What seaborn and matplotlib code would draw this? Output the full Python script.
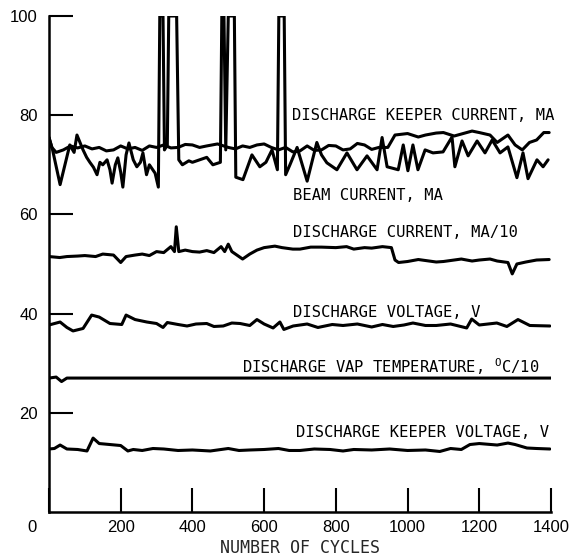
import numpy as np
import pandas as pd
import matplotlib
matplotlib.use("Agg")
import matplotlib.pyplot as plt
import matplotlib.transforms as mtransforms
import seaborn as sns

# Values (cycles vs. reading)
keeper_cur_x = [0, 8, 20, 40, 60, 80, 100, 120, 140, 160, 180, 200, 220, 240, 260, 280, 300, 320,
                340, 360, 380, 400, 420, 440, 470, 500, 520, 540, 560, 580, 600, 620, 640, 660,
                680, 700, 720, 740, 760, 780, 800, 820, 840, 860, 880, 900, 920, 945, 965, 1000,
                1030, 1050, 1080, 1100, 1130, 1150, 1180, 1200, 1230, 1250, 1280, 1300, 1320,
                1340, 1360, 1380, 1395]
keeper_cur_y = [75.5, 73.5, 72.5, 73.0, 73.8, 73.4, 73.8, 73.2, 73.5, 72.8, 73.0, 73.8, 73.2,
                73.5, 72.9, 73.8, 73.5, 74.0, 73.4, 73.5, 74.1, 74.0, 73.5, 73.8, 74.2, 73.5,
                73.2, 73.8, 73.5, 74.0, 74.2, 73.5, 73.0, 73.5, 72.6, 72.8, 73.8, 72.9, 73.0,
                73.9, 73.8, 73.0, 73.2, 74.3, 74.0, 73.1, 73.5, 73.5, 76.0, 76.3, 75.6, 76.0,
                76.4, 76.5, 75.8, 76.2, 76.8, 76.5, 76.0, 74.5, 76.0, 74.0, 73.0, 74.5, 75.0,
                76.5, 76.5]

beam_x = [0, 10, 31, 58, 70, 78, 95, 105, 114, 124, 134, 142, 150, 162, 170, 176, 185, 192, 200,
          206, 215, 223, 235, 245, 255, 262, 272, 280, 296, 305, 309, 318, 322, 330, 334, 356,
          362, 372, 390, 400, 420, 440, 457, 478, 482, 488, 493, 500, 517, 521, 541, 566, 588,
          605, 622, 637, 641, 656, 660, 672, 692, 720, 747, 760, 775, 803, 831, 859, 887, 915,
          929, 943, 974, 988, 1001, 1015, 1029, 1049, 1071, 1099, 1124, 1132, 1152, 1169, 1194,
          1216, 1236, 1258, 1280, 1305, 1322, 1336, 1361, 1378, 1392]
beam_y = [75.5, 73.0, 66.0, 74.0, 72.5, 76.0, 73.0, 71.5, 70.5, 69.5, 68.0, 70.5, 70.0, 71.0,
          69.0, 66.3, 70.0, 71.4, 68.5, 65.5, 72.0, 74.4, 71.0, 69.6, 70.5, 72.4, 68.0, 70.0,
          68.3, 65.5, 100, 100, 73.0, 74.0, 100, 100, 71.0, 70.0, 70.8, 70.5, 71.0, 71.5, 70.0,
          70.5, 100, 100, 73.0, 100, 100, 67.5, 67.0, 72.0, 69.6, 70.5, 73.0, 69.0, 100, 100,
          68.0, 70.0, 73.5, 66.7, 74.5, 72.0, 70.4, 69.0, 72.4, 69.0, 71.8, 69.0, 75.5, 69.6,
          69.0, 74.0, 68.8, 74.0, 69.0, 73.0, 72.4, 72.6, 75.6, 69.6, 74.8, 71.8, 74.8, 72.4,
          75.0, 72.4, 73.6, 67.4, 72.4, 67.2, 71.0, 69.6, 71.0]

dis_cur_x = [0, 30, 50, 80, 100, 130, 150, 180, 200, 215, 240, 260, 280, 300, 320, 340, 350, 355,
             362, 380, 400, 420, 440, 460, 480, 490, 500, 510, 540, 560, 580, 600, 630, 650, 680,
             700, 730, 760, 800, 830, 850, 880, 900, 930, 955, 965, 975, 1000, 1030, 1050, 1080,
             1100, 1130, 1150, 1180, 1200, 1230, 1250, 1280, 1292, 1305, 1330, 1360, 1395]
dis_cur_y = [51.5, 51.3, 51.5, 51.6, 51.7, 51.5, 52.0, 51.8, 50.3, 51.5, 51.8, 52.0, 51.7, 52.5,
             52.3, 53.5, 52.5, 57.5, 52.5, 52.8, 52.5, 52.4, 52.7, 52.3, 53.5, 52.5, 54.0, 52.5,
             51.0, 52.0, 52.8, 53.3, 53.6, 53.3, 53.0, 53.0, 53.4, 53.4, 53.3, 53.5, 53.0, 53.3,
             53.2, 53.5, 53.3, 50.8, 50.3, 50.5, 50.9, 50.7, 50.4, 50.5, 50.8, 51.0, 50.6, 50.8,
             51.0, 50.6, 50.3, 48.0, 50.0, 50.4, 50.8, 50.9]

dis_volt_x = [0, 31, 50, 67, 95, 119, 140, 170, 203, 215, 240, 273, 300, 318, 330, 360, 385, 410,
              440, 460, 486, 510, 533, 560, 580, 600, 625, 644, 655, 681, 720, 750, 790, 820, 860,
              900, 930, 960, 990, 1015, 1050, 1080, 1120, 1165, 1179, 1200, 1249, 1277, 1308,
              1341, 1397]
dis_volt_y = [37.7, 38.3, 37.2, 36.5, 37.0, 39.7, 39.3, 38.0, 37.8, 39.7, 38.8, 38.3, 38.0, 37.2,
              38.2, 37.8, 37.5, 37.9, 38.0, 37.4, 37.5, 38.1, 38.0, 37.6, 38.8, 37.9, 37.1, 38.3,
              36.8, 37.5, 37.9, 37.2, 37.8, 37.6, 37.9, 37.3, 37.8, 37.4, 37.7, 38.1, 37.6, 37.6,
              37.9, 37.1, 38.9, 37.7, 38.1, 37.4, 38.8, 37.6, 37.5]

vap_temp_x = [0, 20, 35, 50, 70, 1400]
vap_temp_y = [27.0, 27.2, 26.3, 27.0, 27.0, 27.0]

keeper_volt_x = [0, 15, 31, 50, 80, 106, 123, 140, 170, 200, 220, 235, 260, 290, 320, 360, 400,
                 450, 500, 530, 560, 600, 640, 670, 700, 740, 784, 820, 850, 900, 950, 1000, 1050,
                 1090, 1120, 1150, 1174, 1200, 1250, 1280, 1300, 1333, 1360, 1397]
keeper_volt_y = [12.7, 12.8, 13.5, 12.7, 12.6, 12.3, 14.9, 13.8, 13.6, 13.4, 12.3, 12.6, 12.4,
                 12.8, 12.7, 12.4, 12.5, 12.3, 12.8, 12.4, 12.5, 12.6, 12.8, 12.4, 12.4, 12.7,
                 12.6, 12.3, 12.6, 12.5, 12.7, 12.4, 12.5, 12.2, 12.8, 12.6, 13.6, 13.8, 13.5,
                 13.9, 13.6, 12.9, 12.8, 12.7]

series = [
    (keeper_cur_x, keeper_cur_y),
    (beam_x, beam_y),
    (dis_cur_x, dis_cur_y),
    (dis_volt_x, dis_volt_y),
    (vap_temp_x, vap_temp_y),
    (keeper_volt_x, keeper_volt_y),
]

labels = [
    ("DISCHARGE KEEPER CURRENT, MA", 678, 80.0),
    ("BEAM CURRENT, MA", 680, 63.9),
    ("DISCHARGE CURRENT, MA/10", 680, 56.3),
    ("DISCHARGE VOLTAGE, V", 680, 40.3),
    (r"DISCHARGE VAP TEMPERATURE, $^{\mathregular{O}}$C/10", 538, 29.4),
    ("DISCHARGE KEEPER VOLTAGE, V", 690, 16.1),
]

sns.set_style("ticks")
plt.rcParams['font.family'] = ['Liberation Sans', 'DejaVu Sans']

fig = plt.figure(figsize=(5.75, 5.59), dpi=100)
ax = fig.add_axes([0.0852, 0.0841, 0.8730, 0.8873])

for xs, ys in series:
    df = pd.DataFrame({"cycles": xs, "value": ys})
    sns.lineplot(data=df, x="cycles", y="value", ax=ax, color="black",
                 linewidth=2.2, estimator=None, sort=False)

for text, x, y in labels:
    ax.text(x, y, text, fontsize=11.2, family="DejaVu Sans Mono",
            va="center", ha="left", color="black")

ax.set_xlim(0, 1400)
ax.set_ylim(0, 100)
ax.set_xticks([0, 200, 400, 600, 800, 1000, 1200, 1400])
ax.set_xticklabels(["0", "200", "400", "600", "800", "1000", "1200", "1400"])
ax.set_yticks([20, 40, 60, 80, 100])
ax.set_yticklabels(["20", "40", "60", "80", "100"])
ax.tick_params(axis="both", direction="in", length=17, width=1.5,
               labelsize=12, colors="black")
ax.tick_params(axis="y", pad=8)
ax.tick_params(axis="x", pad=6)

# shift the "0" label left of the origin, like the original
zero = ax.get_xticklabels()[0]
zero.set_transform(zero.get_transform() +
                   mtransforms.ScaledTranslation(-12 / 72, 0, fig.dpi_scale_trans))

ax.set_xlabel("NUMBER OF CYCLES", fontsize=12, family="DejaVu Sans Mono", labelpad=3)
ax.set_ylabel("")
sns.despine(ax=ax)
for s in ["left", "bottom"]:
    ax.spines[s].set_linewidth(1.8)
    ax.spines[s].set_color("black")

fig.savefig("out.png", dpi=100)
